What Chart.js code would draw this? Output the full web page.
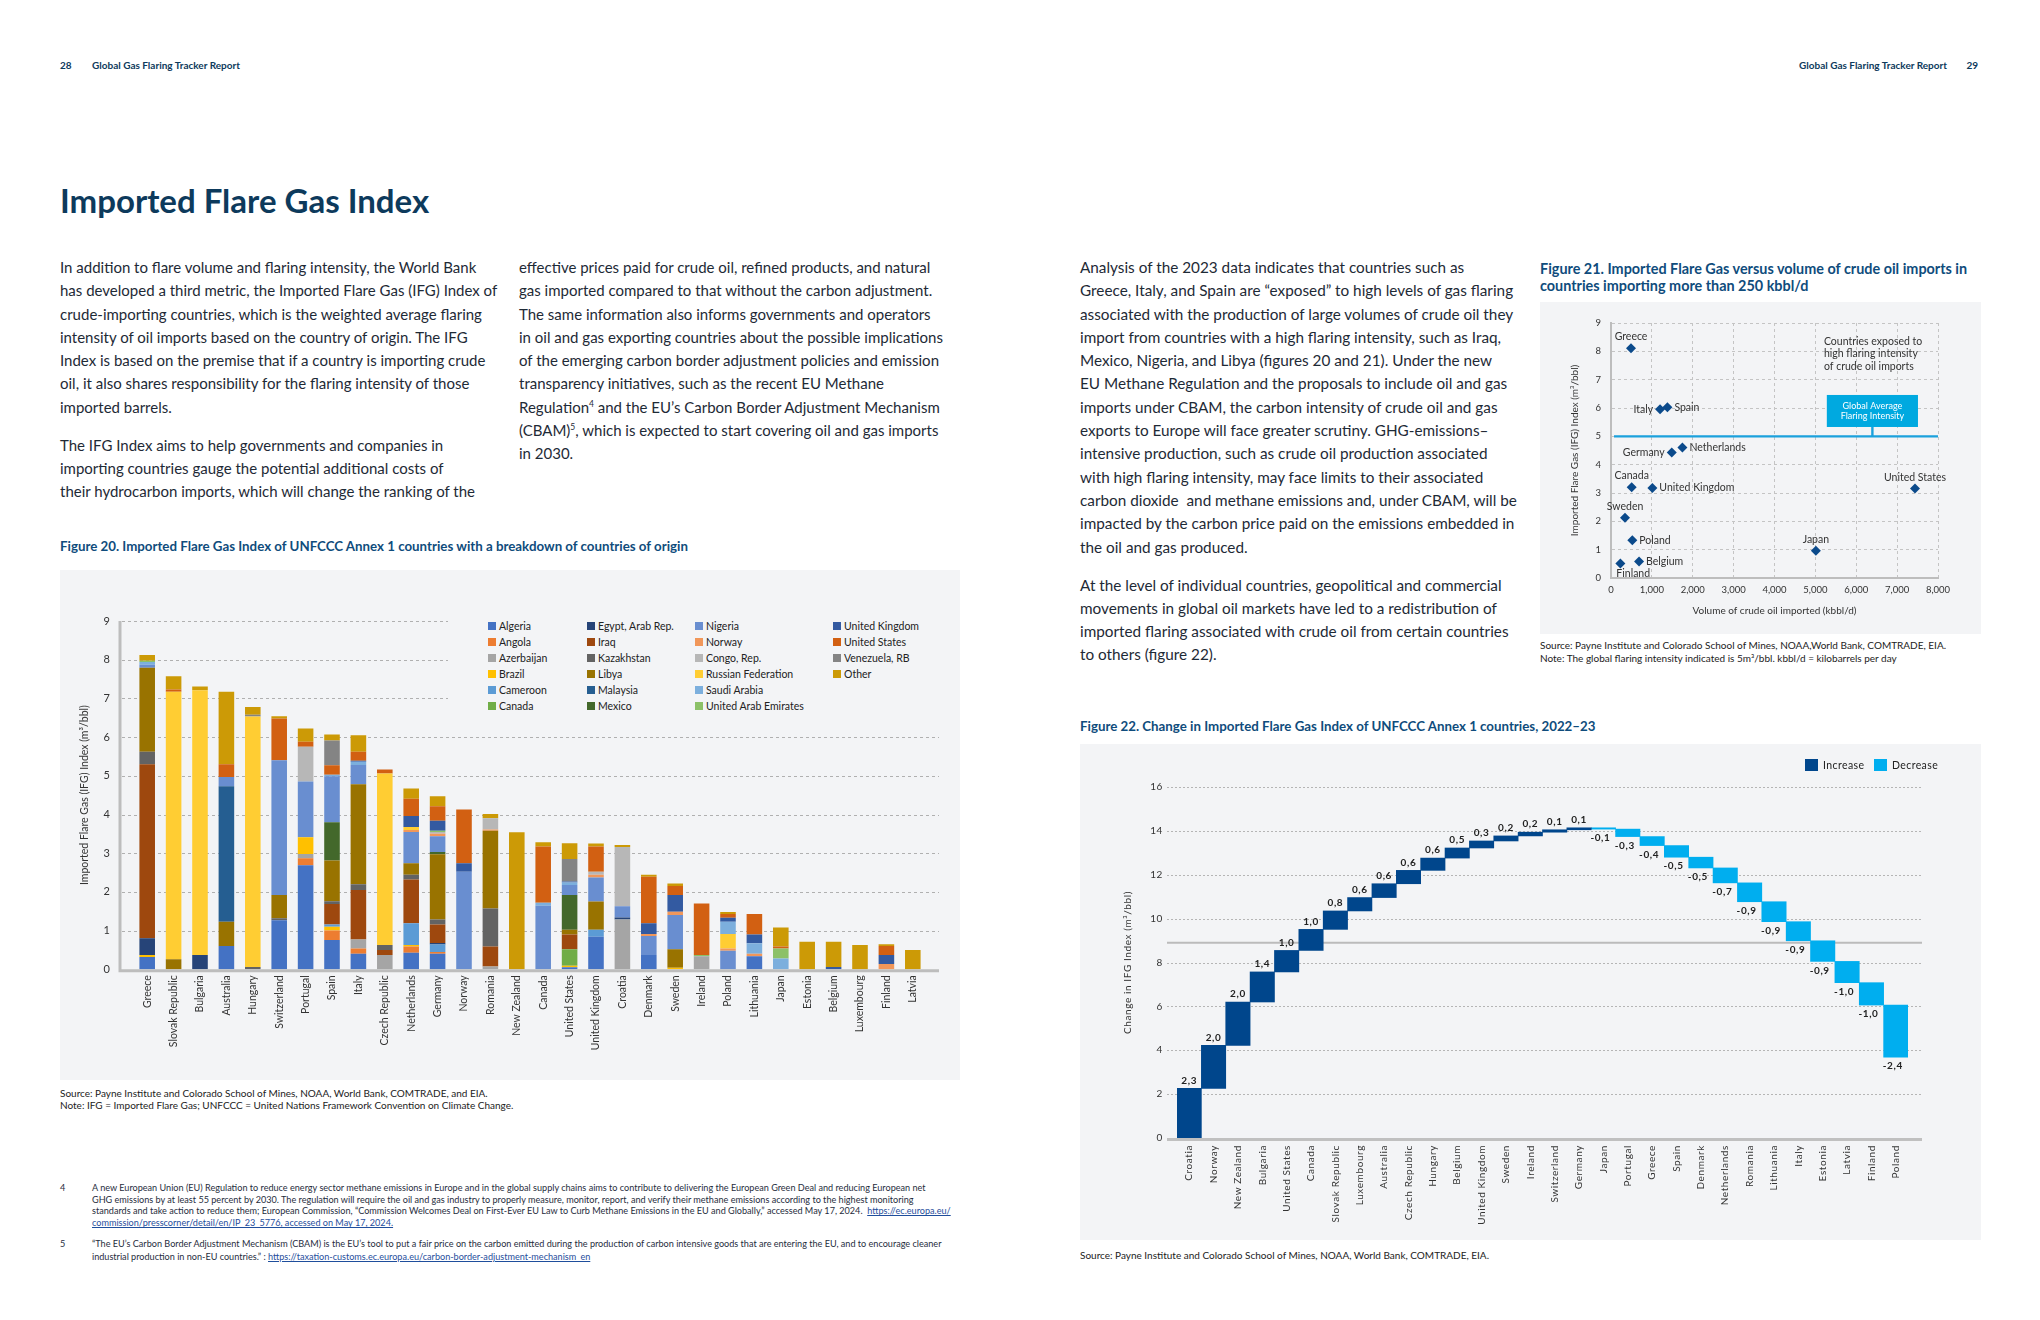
<!DOCTYPE html>
<html lang="en"><head><meta charset="utf-8"><title>Imported Flare Gas Index</title>
<script src="https://cdn.jsdelivr.net/npm/chart.js@4.4.1/dist/chart.umd.min.js"></script>
<style>
html,body{margin:0;padding:0;background:#fff;}
#page{position:relative;width:2040px;height:1320px;overflow:hidden;font-family:Lato,"Open Sans",sans-serif;color:#1e2a36;background:#fff;}
.abs{position:absolute;white-space:nowrap;}
.hdr{font-size:10px;line-height:12px;font-weight:700;color:#0d3a5c;top:59px;}
.title{font-size:33px;line-height:40px;font-weight:700;color:#0d3a5c;left:60px;top:180px;}
.body{font-size:15px;line-height:23.3px;color:#1e2a36;}
.body sup{font-size:8.5px;line-height:0;vertical-align:6px;}
.cap{font-size:13.3px;line-height:16px;font-weight:700;color:#0f4c7c;}
.src{font-size:10px;color:#222;}
.panel{position:absolute;background:#f3f4f6;}
.panel canvas{position:absolute;left:0;top:0;}
.fn{font-size:9.1px;line-height:11.7px;color:#1f2d3d;}
.fn a{color:#1f4e9c;text-decoration:underline;}
#leg20{position:absolute;left:388px;top:36px;width:512px;height:110px;background:#f3f4f6;font-size:10.5px;color:#222;}
#leg20 .it{position:absolute;white-space:nowrap;line-height:12px;}
#leg20 .sq{position:absolute;width:8px;height:8px;left:0;top:2px;}
#leg20 .tx{position:absolute;left:11px;top:0;}
#leg22{position:absolute;left:0;top:0;font-size:10.5px;color:#222;}
#leg22 .sq{position:absolute;width:13px;height:12px;}
#leg22 .tx{position:absolute;white-space:nowrap;line-height:12px;letter-spacing:0.4px;}
</style></head>
<body>
<div id="page">
  <div class="abs hdr" style="left:60px;">28</div>
  <div class="abs hdr" style="left:92px;">Global Gas Flaring Tracker Report</div>
  <div class="abs hdr" style="right:93px;">Global Gas Flaring Tracker Report</div>
  <div class="abs hdr" style="right:62px;">29</div>

  <div class="abs title">Imported Flare Gas Index</div>

  <div class="abs body" style="left:60px;top:256px;">In addition to flare volume and flaring intensity, the World Bank<br>has developed a third metric, the Imported Flare Gas (IFG) Index of<br>crude-importing countries, which is the weighted average flaring<br>intensity of oil imports based on the country of origin. The IFG<br>Index is based on the premise that if a country is importing crude<br>oil, it also shares responsibility for the flaring intensity of those<br>imported barrels.</div>
  <div class="abs body" style="left:60px;top:433.5px;">The IFG Index aims to help governments and companies in<br>importing countries gauge the potential additional costs of<br>their hydrocarbon imports, which will change the ranking of the</div>
  <div class="abs body" style="left:519px;top:256px;">effective prices paid for crude oil, refined products, and natural<br>gas imported compared to that without the carbon adjustment.<br>The same information also informs governments and operators<br>in oil and gas exporting countries about the possible implications<br>of the emerging carbon border adjustment policies and emission<br>transparency initiatives, such as the recent EU Methane<br>Regulation<sup>4</sup> and the EU’s Carbon Border Adjustment Mechanism<br>(CBAM)<sup>5</sup>, which is expected to start covering oil and gas imports<br>in 2030.</div>

  <div class="abs body" style="left:1080px;top:256px;font-size:15.3px;">Analysis of the 2023 data indicates that countries such as<br>Greece, Italy, and Spain are “exposed” to high levels of gas flaring<br>associated with the production of large volumes of crude oil they<br>import from countries with a high flaring intensity, such as Iraq,<br>Mexico, Nigeria, and Libya (figures 20 and 21). Under the new<br>EU Methane Regulation and the proposals to include oil and gas<br>imports under CBAM, the carbon intensity of crude oil and gas<br>exports to Europe will face greater scrutiny. GHG-emissions–<br>intensive production, such as crude oil production associated<br>with high flaring intensity, may face limits to their associated<br>carbon dioxide&nbsp; and methane emissions and, under CBAM, will be<br>impacted by the carbon price paid on the emissions embedded in<br>the oil and gas produced.</div>
  <div class="abs body" style="left:1080px;top:573.5px;font-size:15.3px;">At the level of individual countries, geopolitical and commercial<br>movements in global oil markets have led to a redistribution of<br>imported flaring associated with crude oil from certain countries<br>to others (figure 22).</div>

  <!-- Figure 20 -->
  <div class="abs cap" style="left:60px;top:538px;">Figure 20. Imported Flare Gas Index of UNFCCC Annex 1 countries with a breakdown of countries of origin</div>
  <div class="panel" style="left:60px;top:570px;width:900px;height:510px;">
    <canvas id="c20" width="900" height="510"></canvas>
    <div id="leg20"></div>
  </div>
  <div class="abs src" style="left:60px;top:1087px;line-height:12px;">Source: Payne Institute and Colorado School of Mines, NOAA, World Bank, COMTRADE, and EIA.<br>Note: IFG = Imported Flare Gas; UNFCCC = United Nations Framework Convention on Climate Change.</div>

  <!-- Figure 21 -->
  <div class="abs cap" style="left:1540px;top:259.5px;line-height:17px;font-size:14.4px;">Figure 21. Imported Flare Gas versus volume of crude oil imports in<br>countries importing more than 250 kbbl/d</div>
  <div class="panel" style="left:1540px;top:302px;width:441px;height:332px;">
    <canvas id="c21" width="441" height="332"></canvas>
  </div>
  <div class="abs src" style="left:1540px;top:638.5px;line-height:13px;">Source: Payne Institute and Colorado School of Mines, NOAA,World Bank, COMTRADE, EIA.<br>Note: The global flaring intensity indicated is 5m³/bbl. kbbl/d = kilobarrels per day</div>

  <!-- Figure 22 -->
  <div class="abs cap" style="left:1080px;top:718px;">Figure 22. Change in Imported Flare Gas Index of UNFCCC Annex 1 countries, 2022–23</div>
  <div class="panel" style="left:1080px;top:744px;width:901px;height:496px;">
    <canvas id="c22" width="901" height="496"></canvas>
    <div id="leg22"></div>
  </div>
  <div class="abs src" style="left:1080px;top:1249px;line-height:12px;">Source: Payne Institute and Colorado School of Mines, NOAA, World Bank, COMTRADE, EIA.</div>

  <!-- Footnotes -->
  <div class="abs fn" style="left:60px;top:1182px;">4</div>
  <div class="abs fn" style="left:92px;top:1182px;">A new European Union (EU) Regulation to reduce energy sector methane emissions in Europe and in the global supply chains aims to contribute to delivering the European Green Deal and reducing European net<br>GHG emissions by at least 55 percent by 2030. The regulation will require the oil and gas industry to properly measure, monitor, report, and verify their methane emissions according to the highest monitoring<br>standards and take action to reduce them; European Commission, “Commission Welcomes Deal on First-Ever EU Law to Curb Methane Emissions in the EU and Globally,” accessed May 17, 2024.&nbsp; <a>https://ec.europa.eu/<br>commission/presscorner/detail/en/IP_23_5776, accessed on May 17, 2024.</a></div>
  <div class="abs fn" style="left:60px;top:1238px;line-height:12.5px;">5</div>
  <div class="abs fn" style="left:92px;top:1238px;line-height:12.5px;">“The EU’s Carbon Border Adjustment Mechanism (CBAM) is the EU’s tool to put a fair price on the carbon emitted during the production of carbon intensive goods that are entering the EU, and to encourage cleaner<br>industrial production in non-EU countries.” : <a>https://taxation-customs.ec.europa.eu/carbon-border-adjustment-mechanism_en</a></div>
</div>

<script>
// ================= DATA =================
// Figure 20: importing countries (x categories)
const countries20 = ['Greece','Slovak Republic','Bulgaria','Australia','Hungary','Switzerland','Portugal','Spain','Italy','Czech Republic','Netherlands','Germany','Norway','Romania','New Zealand','Canada','United States','United Kingdom','Croatia','Denmark','Sweden','Ireland','Poland','Lithuania','Japan','Estonia','Belgium','Luxembourg','Finland','Latvia'];
// Origin contributions (m3/bbl), one value per importing country above
//               Gre  Svk  Bul  Aus  Hun  Swi  Por  Spa  Ita  Cze  Net  Ger  Nor  Rom  NZ   Can  US   UK   Cro  Den  Swe  Ire  Pol  Lit  Jap  Est  Bel  Lux  Fin  Lat
const algeria    = [0.32,0,0,0.60,0,1.27,2.69,0.76,0.40,0,0.43,0.40,0,0,0,0,0.05,0.84,0,0.37,0,0,0,0.34,0,0,0,0,0,0];
const angola     = [0,0,0,0,0,0,0.18,0.24,0.14,0,0.16,0.05,0,0,0,0,0,0,0,0,0,0,0,0,0,0,0,0,0,0];
const azerbaijan = [0,0,0,0,0,0,0.11,0,0.23,0.37,0,0,0,0.07,0,0,0,0,1.29,0,0,0.34,0,0,0,0,0,0,0,0];
const brazil     = [0.05,0,0,0,0,0,0.43,0.10,0,0,0.04,0,0,0,0,0,0.04,0,0,0,0.04,0,0,0,0,0,0,0,0,0];
const cameroon   = [0,0,0,0,0,0,0,0.06,0,0,0.56,0.19,0,0,0,0,0,0.18,0,0,0,0,0,0,0,0,0,0,0,0];
const canada     = [0,0,0,0,0,0,0,0,0,0,0,0,0,0,0,0,0.43,0,0,0,0,0,0,0,0,0,0,0,0,0];
const egypt      = [0.43,0,0.37,0,0,0,0,0,0,0,0,0.04,0,0,0,0,0,0,0.05,0,0,0,0,0,0,0,0,0,0,0];
const iraq       = [4.50,0,0,0,0,0,0,0.53,1.28,0.13,1.13,0.48,0,0.52,0,0,0.38,0,0,0,0,0,0,0,0,0,0,0,0,0];
const kazakhstan = [0.32,0,0,0,0.06,0.05,0,0.07,0.15,0.13,0.12,0.13,0,0.98,0,0,0,0,0,0,0,0,0,0,0,0,0,0,0,0];
const libya      = [2.17,0.26,0,0.63,0,0.60,0,1.05,2.58,0,0.30,1.68,0,2.01,0,0,0.12,0.73,0,0,0.48,0,0,0,0,0,0,0,0,0];
const malaysia   = [0,0,0,3.50,0,0,0,0,0,0,0,0,0,0,0,0,0,0,0,0,0,0,0,0,0,0,0,0,0,0];
const mexico     = [0,0,0,0,0,0,0,0.99,0,0,0,0.06,0,0,0,0,0.90,0,0,0,0,0,0,0,0,0,0,0,0,0];
const nigeria    = [0.08,0,0,0.24,0,3.48,1.44,1.19,0.50,0,0.81,0.41,2.52,0,0,1.64,0.26,0.62,0.29,0.49,0.88,0,0.48,0,0,0,0,0,0,0];
const norway     = [0,0,0,0,0,0,0,0,0,0,0.05,0.06,0,0.03,0,0,0,0.07,0,0.05,0.09,0,0.06,0.06,0,0,0,0,0.14,0];
const congo      = [0,0,0,0,0,0,0.90,0,0,0,0,0.05,0,0.29,0,0,0,0.08,1.53,0,0,0,0,0,0,0,0,0,0,0];
const russia     = [0,6.91,6.84,0,6.47,0,0,0,0,4.43,0.08,0,0,0,0,0,0,0,0,0,0,0,0.37,0,0,0,0,0,0,0];
const saudi      = [0.07,0,0,0,0,0,0,0.04,0.08,0,0,0,0,0,0,0.08,0.06,0,0,0,0,0,0.32,0.27,0.28,0,0,0,0,0];
const uae        = [0.03,0,0,0,0,0,0,0,0,0,0,0.03,0,0,0,0,0,0,0,0,0,0.03,0,0,0.26,0,0,0,0,0];
const unitedKingdom = [0,0,0,0,0,0,0,0,0.03,0,0.28,0.26,0.22,0,0,0,0.03,0,0,0.28,0.43,0,0.10,0.23,0,0,0.06,0,0.23,0];
const unitedStates  = [0,0.06,0,0.33,0,1.08,0.13,0.24,0.23,0.10,0.45,0.37,1.39,0,0,1.45,0,0.65,0,1.20,0.23,1.33,0.10,0.53,0.05,0,0,0,0.23,0];
const venezuela  = [0,0,0,0,0.05,0,0,0.64,0,0,0,0,0,0,0,0,0.58,0,0,0,0,0,0,0,0,0,0,0,0,0];
const other      = [0.15,0.34,0.10,1.87,0.20,0.06,0.34,0.16,0.43,0,0.26,0.26,0,0.11,3.54,0.11,0.41,0.08,0.05,0.05,0.07,0,0.05,0,0.49,0.71,0.65,0.63,0.05,0.50];
const originNames = ['Algeria','Angola','Azerbaijan','Brazil','Cameroon','Canada','Egypt, Arab Rep.','Iraq','Kazakhstan','Libya','Malaysia','Mexico','Nigeria','Norway','Congo, Rep.','Russian Federation','Saudi Arabia','United Arab Emirates','United Kingdom','United States','Venezuela, RB','Other'];
const originSeries = [algeria,angola,azerbaijan,brazil,cameroon,canada,egypt,iraq,kazakhstan,libya,malaysia,mexico,nigeria,norway,congo,russia,saudi,uae,unitedKingdom,unitedStates,venezuela,other];

// Figure 21: scatter
const scatterNames = ['Greece','Italy','Spain','Germany','Netherlands','Canada','United Kingdom','Sweden','Poland','Finland','Belgium','Japan','United States'];
const importsKbbl  = [490,1200,1380,1486,1747,506,1012,343,522,229,686,5012,7437];
const ifgIndex     = [8.11,5.96,6.03,4.43,4.61,3.20,3.18,2.13,1.33,0.51,0.58,0.96,3.16];
const globalAverage = 5;

// Figure 22: waterfall
const countries22 = ['Croatia','Norway','New Zealand','Bulgaria','United States','Canada','Slovak Republic','Luxembourg','Australia','Czech Republic','Hungary','Belgium','United Kingdom','Sweden','Ireland','Switzerland','Germany','Japan','Portugal','Greece','Spain','Denmark','Netherlands','Romania','Lithuania','Italy','Estonia','Latvia','Finland','Poland'];
const change22 = [2.26,1.96,1.98,1.37,0.98,0.96,0.84,0.61,0.63,0.61,0.56,0.46,0.32,0.23,0.17,0.11,0.09,-0.06,-0.34,-0.41,-0.53,-0.49,-0.68,-0.86,-0.91,-0.87,-0.94,-0.97,-1.02,-2.38];
const refLine22 = 8.9;

// ================= STYLE =================
const originColors = ['#4472C4','#ED7D31','#A5A5A5','#FFC000','#5B9BD5','#70AD47','#264478','#9E480E','#636363','#997300','#255E91','#43682B','#698ED0','#F1975A','#B7B7B7','#FFCD33','#7CAFDD','#8CC168','#335AA1','#D26012','#848484','#CC9A06'];
const FONT = 'Lato, "Open Sans", sans-serif';
Chart.defaults.font.family = FONT;
Chart.defaults.color = '#333';
const fmtComma = v => v.toFixed(1).replace('.', ',');

// ================= FIGURE 20 =================
(function(){
  const leg = document.getElementById('leg20');
  const colX = [40,139,247,385];
  originNames.forEach((n,i)=>{
    const c = Math.floor(i/6), r = i%6;
    const it = document.createElement('div');
    it.className='it';
    it.style.left = colX[c]+'px';
    it.style.top = (14 + r*16)+'px';
    it.innerHTML = '<span class="sq" style="background:'+originColors[i]+'"></span><span class="tx">'+n+'</span>';
    leg.appendChild(it);
  });

  const frame20 = {
    id:'frame20',
    beforeDatasetsDraw(chart){
      const {ctx, chartArea:a, scales:{y}} = chart;
      const L = a.left - 14, R = a.right + 13;
      ctx.save();
      ctx.strokeStyle = '#b0b0b0'; ctx.lineWidth = 1; ctx.setLineDash([3,3]);
      y.ticks.forEach(t=>{
        if (t.value === 0) return;
        const py = Math.round(y.getPixelForValue(t.value)) + 0.5;
        ctx.beginPath(); ctx.moveTo(L+2, py); ctx.lineTo(R, py); ctx.stroke();
      });
      ctx.setLineDash([]);
      ctx.strokeStyle = '#bdbdbd'; ctx.lineWidth = 3;
      const y0 = y.getPixelForValue(0);
      ctx.beginPath(); ctx.moveTo(L, a.top); ctx.lineTo(L, y0+1.5); ctx.lineTo(R, y0+1.5); ctx.stroke();
      ctx.restore();
    }
  };

  new Chart(document.getElementById('c20'), {
    type:'bar',
    data:{
      labels: countries20,
      datasets: originNames.map((n,i)=>({label:n, data:originSeries[i], backgroundColor:originColors[i], borderWidth:0, barPercentage:0.59, categoryPercentage:1}))
    },
    options:{
      responsive:false, animation:false, events:[],
      layout:{padding:{left:14,right:34,top:51,bottom:0}},
      plugins:{legend:{display:false}, tooltip:{enabled:false}},
      scales:{
        x:{stacked:true, grid:{display:false, drawTicks:false}, border:{display:false},
           ticks:{autoSkip:false, maxRotation:90, minRotation:90, padding:6, color:'#333', font:{size:10.5}},
           afterFit(s){ s.height = 110.7; }},
        y:{stacked:true, min:0, max:9,
           ticks:{stepSize:1, padding:24, color:'#333', font:{size:11}},
           grid:{display:false, drawTicks:false}, border:{display:false},
           title:{display:true, text:'Imported Flare Gas (IFG) Index (m³/bbl)', color:'#333', font:{size:10.5}, padding:{top:4,bottom:4}},
           afterFit(s){ s.width = 60; }}
      }
    },
    plugins:[frame20]
  });
})();

// ================= FIGURE 21 =================
(function(){
  const labelPos = ['above','left','right','left','right','above','right','above','right','below','right','above','above'];
  const deco21 = {
    id:'deco21',
    beforeDatasetsDraw(chart){
      const {ctx, scales:{x,y}} = chart;
      ctx.save();
      const gy = y.getPixelForValue(globalAverage);
      ctx.strokeStyle = '#1ba1dc'; ctx.lineWidth = 2.4;
      ctx.beginPath(); ctx.moveTo(x.getPixelForValue(0)+3, gy); ctx.lineTo(x.getPixelForValue(8000), gy); ctx.stroke();
      const bx1 = x.getPixelForValue(5280), bx2 = x.getPixelForValue(7510);
      const by1 = y.getPixelForValue(6.46), by2 = y.getPixelForValue(5.33);
      const cx = (bx1+bx2)/2;
      ctx.beginPath(); ctx.moveTo(cx, by2); ctx.lineTo(cx, gy); ctx.stroke();
      ctx.fillStyle = '#00a9e0';
      ctx.fillRect(bx1, by1, bx2-bx1, by2-by1);
      ctx.fillStyle = '#ffffff'; ctx.font = '9px '+FONT; ctx.textAlign='center'; ctx.textBaseline='middle';
      const bm = (by1+by2)/2;
      ctx.fillText('Global Average', cx, bm-5);
      ctx.fillText('Flaring Intensity', cx, bm+5);
      ctx.fillStyle = '#333'; ctx.font = '10.5px '+FONT; ctx.textAlign='left';
      const ax = x.getPixelForValue(5210), ay = y.getPixelForValue(8.36);
      ['Countries exposed to','high flaring intensity','of crude oil imports'].forEach((t,i)=>ctx.fillText(t, ax, ay + i*12.6));
      ctx.restore();
    },
    afterDatasetsDraw(chart){
      const {ctx} = chart;
      const meta = chart.getDatasetMeta(0);
      ctx.save();
      ctx.fillStyle = '#333'; ctx.font = '10.5px '+FONT;
      meta.data.forEach((pt,i)=>{
        const n = scatterNames[i], p = labelPos[i];
        if (p==='above'){ ctx.textAlign='center'; ctx.textBaseline='bottom'; ctx.fillText(n, pt.x, pt.y-6); }
        else if (p==='left'){ ctx.textAlign='right'; ctx.textBaseline='middle'; ctx.fillText(n, pt.x-7, pt.y); }
        else if (p==='right'){ ctx.textAlign='left'; ctx.textBaseline='middle'; ctx.fillText(n, pt.x+7, pt.y); }
        else { ctx.textAlign='left'; ctx.textBaseline='top'; ctx.fillText(n, pt.x-4, pt.y+5); }
      });
      ctx.restore();
    }
  };
  new Chart(document.getElementById('c21'), {
    type:'scatter',
    data:{datasets:[{
      label:'IFG Index',
      data: scatterNames.map((n,i)=>({x:importsKbbl[i], y:ifgIndex[i]})),
      pointStyle:'rectRot', pointRadius:5, backgroundColor:'#0b4a8b', borderWidth:0
    }]},
    options:{
      responsive:false, animation:false, events:[],
      layout:{padding:{left:25,right:43,top:21,bottom:13}},
      plugins:{legend:{display:false}, tooltip:{enabled:false}},
      scales:{
        x:{type:'linear', min:0, max:8000,
           ticks:{stepSize:1000, padding:6, color:'#333', font:{size:9.5}, callback:v=>v.toLocaleString('en-US')},
           grid:{color:'#c4c4c4', lineWidth:1, drawTicks:false},
           border:{color:'#bdbdbd', width:2, dash:[3,3]},
           title:{display:true, text:'Volume of crude oil imported (kbbl/d)', color:'#333', font:{size:10}, padding:{top:4,bottom:4}},
           afterFit(s){ s.height = 43; }},
        y:{min:0, max:9,
           ticks:{stepSize:1, padding:10, color:'#333', font:{size:9.5}},
           grid:{color:'#c4c4c4', lineWidth:1, drawTicks:false},
           border:{color:'#bdbdbd', width:2, dash:[3,3]},
           title:{display:true, text:'Imported Flare Gas (IFG) Index (m³/bbl)', color:'#333', font:{size:10}, padding:{top:4,bottom:4}},
           afterFit(s){ s.width = 46; }}
      }
    },
    plugins:[deco21]
  });
})();

// ================= FIGURE 22 =================
(function(){
  let cum = 0;
  const incData = [], decData = [];
  change22.forEach(v=>{
    const s = cum; cum += v;
    if (v >= 0){ incData.push([s, cum]); decData.push(null); }
    else { incData.push(null); decData.push([cum, s]); }
  });
  const colInc = '#00468c', colDec = '#00aeef';

  const leg = document.getElementById('leg22');
  [['Increase',colInc,725],['Decrease',colDec,794]].forEach(([t,c,x])=>{
    leg.insertAdjacentHTML('beforeend','<span class="sq" style="left:'+x+'px;top:15px;background:'+c+'"></span><span class="tx" style="left:'+(x+18)+'px;top:15px;">'+t+'</span>');
  });

  const deco22 = {
    id:'deco22',
    beforeDraw(chart){ chart.ctx.letterSpacing = '0.6px'; },
    beforeDatasetsDraw(chart){
      const {ctx, chartArea:a, scales:{y}} = chart;
      const L = a.left - 10, R = a.right + 14;
      ctx.save();
      ctx.strokeStyle = '#b5b5b5'; ctx.lineWidth = 1; ctx.setLineDash([2,2]);
      y.ticks.forEach(t=>{
        if (t.value === 0) return;
        const py = Math.round(y.getPixelForValue(t.value)) + 0.5;
        ctx.beginPath(); ctx.moveTo(L, py); ctx.lineTo(R, py); ctx.stroke();
      });
      ctx.setLineDash([]);
      ctx.strokeStyle = '#bbbbbb'; ctx.lineWidth = 2;
      const ry = y.getPixelForValue(refLine22);
      ctx.beginPath(); ctx.moveTo(L, ry); ctx.lineTo(R, ry); ctx.stroke();
      ctx.lineWidth = 3; ctx.strokeStyle = '#c0c0c0';
      const y0 = y.getPixelForValue(0);
      ctx.beginPath(); ctx.moveTo(L, y0+1.5); ctx.lineTo(R, y0+1.5); ctx.stroke();
      ctx.restore();
    },
    afterDatasetsDraw(chart){
      const {ctx, scales:{x,y}} = chart;
      ctx.save();
      ctx.fillStyle = '#222'; ctx.font = 'bold 10px '+FONT; ctx.textAlign='center';
      let c = 0;
      change22.forEach((v,i)=>{
        c += v;
        const px = x.getPixelForValue(i);
        if (v >= 0){ ctx.textBaseline='bottom'; ctx.fillText(fmtComma(v), px, y.getPixelForValue(c)-3); }
        else { ctx.textBaseline='top'; ctx.fillText(fmtComma(v), px-3, y.getPixelForValue(c)+4); }
      });
      ctx.restore();
    },
    afterDraw(chart){ chart.ctx.letterSpacing = '0px'; }
  };

  new Chart(document.getElementById('c22'), {
    type:'bar',
    data:{
      labels: countries22,
      datasets:[
        {label:'Increase', data:incData, backgroundColor:colInc, borderWidth:0, grouped:false, barPercentage:1, categoryPercentage:1},
        {label:'Decrease', data:decData, backgroundColor:colDec, borderWidth:0, grouped:false, barPercentage:1, categoryPercentage:1}
      ]
    },
    options:{
      responsive:false, animation:false, events:[],
      layout:{padding:{left:38,right:73,top:43,bottom:0}},
      plugins:{legend:{display:false}, tooltip:{enabled:false}},
      scales:{
        x:{grid:{display:false, drawTicks:false}, border:{display:false},
           ticks:{autoSkip:false, maxRotation:90, minRotation:90, padding:7, color:'#333', font:{size:10}},
           afterFit(s){ s.height = 102; }},
        y:{min:0, max:16,
           ticks:{stepSize:2, padding:14, color:'#333', font:{size:10}},
           grid:{display:false, drawTicks:false}, border:{display:false},
           title:{display:true, text:'Change in IFG Index (m³/bbl)', color:'#333', font:{size:10}, padding:{top:4,bottom:4}},
           afterFit(s){ s.width = 59; }}
      }
    },
    plugins:[deco22]
  });
})();
</script>
</body></html>
